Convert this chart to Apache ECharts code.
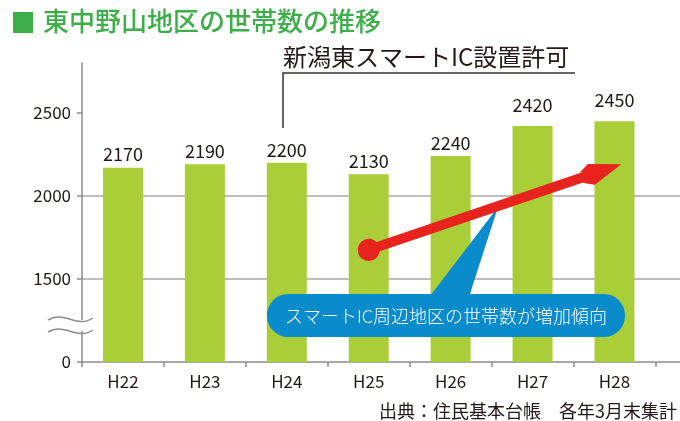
<!DOCTYPE html>
<html>
<head>
<meta charset="utf-8">
<script src="https://cdn.jsdelivr.net/npm/echarts@6/dist/echarts.min.js"></script>
<style>
  html, body { margin: 0; padding: 0; background: #fff; }
  #main { width: 680px; height: 421px; }
</style>
</head>
<body>
<div id="main"></div>
<script>
// 年度（平成）
var years = ['H22', 'H23', 'H24', 'H25', 'H26', 'H27', 'H28']
// 世帯数
var households = [2170, 2190, 2200, 2130, 2240, 2420, 2450]
// 目盛り（1000 の位置を「0」と表示する省略軸）
var yTicks = [1000, 1500, 2000, 2500]
// 増加傾向の矢印（始点・終点）
var trendFrom = [3.5, 1675]
var trendTo = [6.34, 2150]

var font = '"Noto Sans CJK JP", "Noto Sans", sans-serif'
var ink = '#231815'
var green = '#3dae4a'

var barData = households.map(function (v, i) {
  // 2500 の線にかかる数値ラベルは少し上にずらす
  var lift = v > 2400 ? 12 : 4
  return { value: [i + 0.5, v], label: { distance: lift } }
})
var xLabelPos = years.map(function (y, i) {
  return i + 0.5
})
var xTickPos = years.map(function (y, i) {
  return i
}).concat([years.length])

var chartDom = document.getElementById('main')
var myChart = echarts.init(chartDom)
var option

option = {
  animation: false,
  grid: {
    left: 82,
    right: 0,
    top: 63,
    bottom: 59,
  },
  xAxis: {
    type: 'value',
    min: 0,
    max: 7.3,
    interval: 1,
    splitLine: { show: false },
    axisLine: {
      show: true,
      lineStyle: { color: '#8c8c8c', width: 1.5 },
    },
    axisTick: {
      show: true,
      length: 5,
      customValues: xTickPos,
      lineStyle: { color: '#8c8c8c', width: 1.5 },
    },
    axisLabel: {
      customValues: xLabelPos,
      formatter: function (v) {
        return years[Math.round(v - 0.5)]
      },
      fontFamily: font,
      fontSize: 17,
      color: ink,
      margin: 11,
    },
  },
  yAxis: {
    type: 'value',
    min: 1000,
    max: 2800,
    interval: 500,
    axisLine: {
      show: true,
      lineStyle: { color: '#8c8c8c', width: 1.5 },
    },
    axisTick: {
      show: true,
      length: 5,
      customValues: yTicks,
      lineStyle: { color: '#8c8c8c', width: 1.5 },
    },
    axisLabel: {
      customValues: yTicks,
      formatter: function (v) {
        return v === 1000 ? '0' : String(v)
      },
      fontFamily: font,
      fontSize: 17,
      color: ink,
      margin: 11,
    },
    splitLine: {
      show: true,
      showMinLine: false,
      showMaxLine: false,
      lineStyle: { color: '#a8a8a8', width: 1.5 },
    },
  },
  series: [
    {
      type: 'bar',
      z: 2,
      data: barData,
      barWidth: 40,
      itemStyle: { color: '#a9ce38' },
      label: {
        show: true,
        position: 'top',
        distance: 4,
        fontFamily: font,
        fontSize: 18,
        color: ink,
        formatter: function (p) {
          return p.value[1]
        },
      },
      markLine: {
        silent: true,
        z: 6,
        symbol: [
          'circle',
          'path://M18,0 L36,27 L27,36 L18,19 L9,36 L0,27 Z',
        ],
        symbolSize: [22, 42],
        label: { show: false },
        lineStyle: { color: '#e8221d', width: 10, type: 'solid' },
        data: [[{ coord: trendFrom }, { coord: trendTo }]],
      },
    },
  ],
  graphic: [
    // タイトル
    {
      type: 'rect',
      shape: { x: 13, y: 12, width: 20, height: 21 },
      style: { fill: green },
    },
    {
      type: 'text',
      left: 43,
      top: 8,
      style: {
        text: '東中野山地区の世帯数の推移',
        font: '500 26px ' + font,
        fill: green,
      },
    },
    // 新潟東スマートIC設置許可
    {
      type: 'polyline',
      shape: { points: [[283, 128], [283, 73], [575, 73]] },
      style: { stroke: '#333', lineWidth: 1.5, fill: null },
    },
    {
      type: 'text',
      x: 283,
      y: 57,
      style: {
        text: '新潟東スマートIC設置許可',
        font: '24px ' + font,
        fill: ink,
        verticalAlign: 'middle',
      },
    },
    // 吹き出し
    {
      type: 'polygon',
      z: 4,
      shape: { points: [[427, 300], [498, 207], [468, 300]] },
      style: { fill: '#0a8bcc' },
    },
    {
      type: 'rect',
      z: 4,
      shape: { x: 267, y: 294, width: 358, height: 43, r: 21 },
      style: { fill: '#0a8bcc' },
    },
    {
      type: 'text',
      z: 4,
      x: 446,
      y: 316,
      style: {
        text: 'スマートIC周辺地区の世帯数が増加傾向',
        font: '300 18px ' + font,
        fill: '#fff',
        align: 'center',
        verticalAlign: 'middle',
      },
    },
    // 軸の省略記号
    {
      type: 'rect',
      z: 4,
      shape: { x: 78, y: 320, width: 8, height: 11 },
      style: { fill: '#fff' },
    },
    {
      type: 'bezierCurve',
      z: 4,
      shape: { x1: 48, y1: 320, cpx1: 64, cpy1: 310, cpx2: 77, cpy2: 329, x2: 93, y2: 318 },
      style: { stroke: '#8c8c8c', lineWidth: 1.5, fill: null },
    },
    {
      type: 'bezierCurve',
      z: 4,
      shape: { x1: 48, y1: 332, cpx1: 64, cpy1: 322, cpx2: 77, cpy2: 341, x2: 93, y2: 330 },
      style: { stroke: '#8c8c8c', lineWidth: 1.5, fill: null },
    },
    // 出典
    {
      type: 'text',
      x: 379,
      y: 411,
      style: {
        text: '出典：住民基本台帳　各年3月末集計',
        font: '18px ' + font,
        fill: ink,
        verticalAlign: 'middle',
      },
    },
  ],
}
option && myChart.setOption(option)
</script>
</body>
</html>
